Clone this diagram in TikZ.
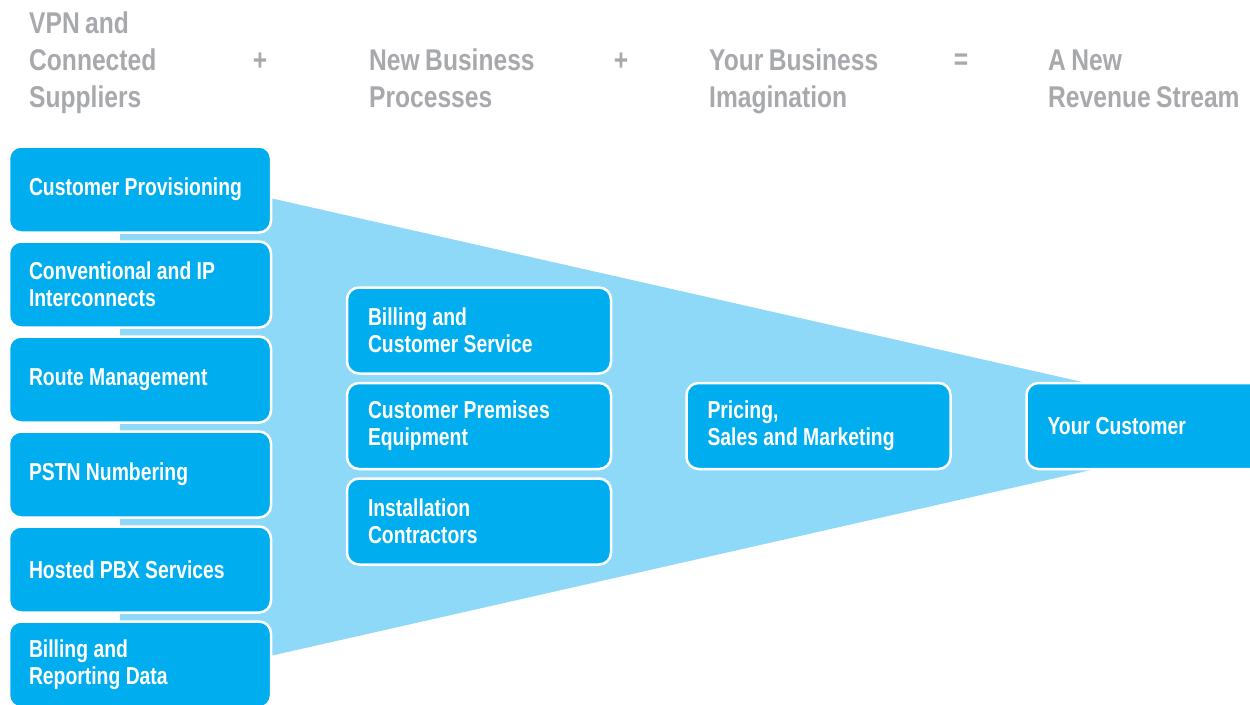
\documentclass[tikz,border=0pt]{standalone}
\usepackage{fontspec}
\setmainfont[FakeStretch=0.79]{Liberation Sans}
\newfontfamily\headfont[FakeStretch=0.82,WordSpace=0.8]{Liberation Sans}
\definecolor{boxblue}{HTML}{00AEEF}
\definecolor{funnelblue}{HTML}{8ED8F8}
\definecolor{headgray}{HTML}{A7A9AC}
\begin{document}
\begin{tikzpicture}[x=1pt,y=-1pt,
  bluebox/.style={rectangle, rounded corners=12pt, fill=boxblue, draw=white, line width=2.5pt,
    minimum height=86pt, inner xsep=20pt, inner ysep=0pt, align=flush left, text=white,
    font=\bfseries\fontsize{24.5}{27}\selectfont},
  leftbox/.style={bluebox, text width=222pt},
  midbox/.style={bluebox, text width=222pt, minimum width=264pt},
  head/.style={anchor=base west, align=left, text=headgray, inner sep=0pt,
    font=\headfont\bfseries\fontsize{30}{37}\selectfont},
  op/.style={text=headgray, inner sep=0pt, font=\headfont\bfseries\fontsize{30}{37}\selectfont}]
\useasboundingbox (0,0) rectangle (1250,704);
\fill[white] (0,0) rectangle (1250,704);
% funnel
\fill[funnelblue] (120,200) -- (270,198) -- (1100,386) -- (1100,468) -- (270,656) -- (120,656) -- cycle;
% headers (anchored at the baseline of the last line)
\node[head] (h1) at (29,107) {VPN and\\Connected\\Suppliers};
\node[op] (p1) at (260,62) {+};
\node[head] (h2) at (369,107) {New Business\\Processes};
\node[op] (p2) at (621,62) {+};
\node[head] (h3) at (709,107) {Your Business\\Imagination};
\node[op] (eq) at (961,62) {=};
\node[head] (h4) at (1048,107) {A New\\Revenue Stream};
% left column
\node[leftbox] (l1) at (140,189.5) {Customer Provisioning};
\node[leftbox] (l2) at (140,284.5) {Conventional and IP\\Interconnects};
\node[leftbox] (l3) at (140,379.5) {Route Management};
\node[leftbox] (l4) at (140,474.5) {PSTN Numbering};
\node[leftbox] (l5) at (140,569.5) {Hosted PBX Services};
\node[leftbox] (l6) at (140,664.5) {Billing and\\Reporting Data};
% middle column
\node[midbox] (m1) at (479,330.5) {Billing and\\Customer Service};
\node[midbox] (m2) at (479,426) {Customer Premises\\Equipment};
\node[midbox] (m3) at (479,521.5) {Installation\\Contractors};
% pricing
\node[midbox] (pr) at (818.5,426) {Pricing,\\Sales and Marketing};
% customer
\node[midbox] (yc) at (1158.5,426) {Your Customer};
\end{tikzpicture}
\end{document}
